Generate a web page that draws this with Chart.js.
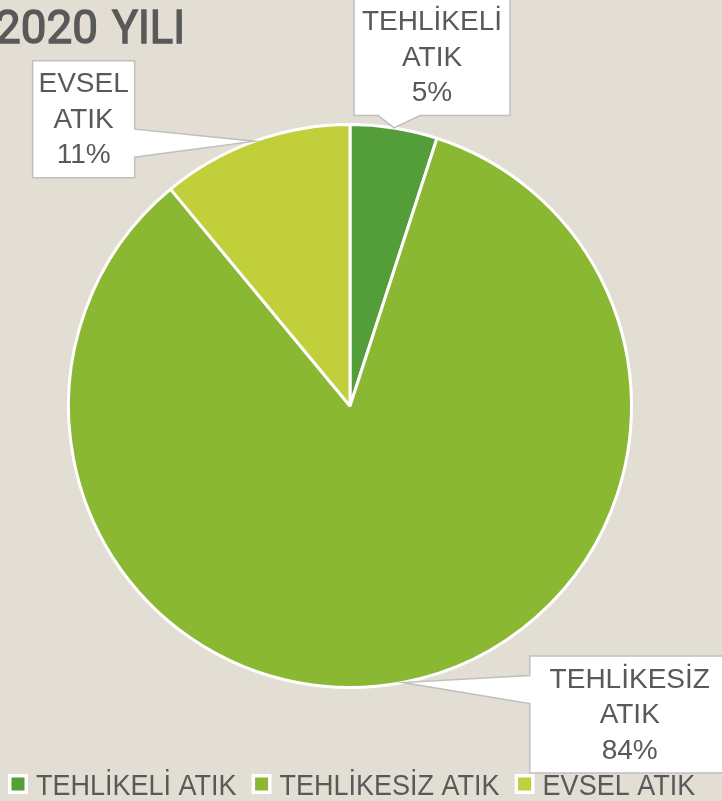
<!DOCTYPE html>
<html>
<head>
<meta charset="utf-8">
<script src="https://cdn.jsdelivr.net/npm/chart.js@4.4.1/dist/chart.umd.min.js"></script>
<style>
  html, body { margin: 0; padding: 0; background: #E3DED4; }
  #wrap { width: 722px; height: 801px; position: relative; }
</style>
</head>
<body>
<div id="wrap"><canvas id="myChart" width="722" height="801"></canvas></div>
<script>
const chartTitle = '2020 YILI';
const categories = ['TEHLİKELİ ATIK', 'TEHLİKESİZ ATIK', 'EVSEL ATIK'];
const shares = [5, 84, 11];
const sliceColors = ['#549E39', '#8AB833', '#C0CF3A'];

// callout box placement relative to the slice's outer mid point (dx, dy of box center, w, h)
const calloutBoxes = [
    { dx: 38, dy: -71, w: 156, h: 117 },
    { dx: 227, dy: 32, w: 200, h: 117 },
    { dx: -171, dy: -22, w: 102, h: 117 }
];

const textColor = '#595959';

// title sits half off the left edge, like a cropped slide
const titlePlugin = {
    id: 'cornerTitle',
    afterDraw(chart) {
        const ctx = chart.ctx;
        ctx.save();
        ctx.fillStyle = textColor;
        ctx.strokeStyle = textColor;
        ctx.lineWidth = 1.4;
        ctx.font = '47px Roboto, "Liberation Sans", Arial, sans-serif';
        ctx.textAlign = 'right';
        ctx.textBaseline = 'alphabetic';
        const parts = chartTitle.split(' ');
        // year: right edge ~98px, word: right edge ~184px
        const spots = [{ right: 98, width: 103 }, { right: 185, width: 73 }];
        parts.forEach((part, i) => {
            const w = ctx.measureText(part).width;
            ctx.save();
            ctx.translate(spots[i].right, 43);
            ctx.scale(spots[i].width / w, 1);
            ctx.fillText(part, 0, 0);
            ctx.strokeText(part, 0, 0);
            ctx.restore();
        });
        ctx.restore();
    }
};

// legend drawn by hand to get the narrow lettering of the original
const legendPlugin = {
    id: 'narrowLegend',
    afterDraw(chart) {
        const ctx = chart.ctx;
        ctx.save();
        ctx.font = '30px "Liberation Sans", Arial, sans-serif';
        ctx.textBaseline = 'alphabetic';
        ctx.textAlign = 'left';
        const sx = 0.9;
        let x = 8;
        const top = 774, size = 20, inset = 3.5;
        categories.forEach((name, i) => {
            ctx.fillStyle = '#FFFFFF';
            ctx.fillRect(x, top, size, size);
            ctx.fillStyle = sliceColors[i];
            ctx.fillRect(x + inset, top + inset, size - 2 * inset, size - 2 * inset);
            x += size + 8;
            ctx.save();
            ctx.translate(x, 795);
            ctx.scale(sx, 1);
            ctx.fillStyle = textColor;
            ctx.fillText(name, 0, 0);
            ctx.restore();
            x += ctx.measureText(name).width * sx + 15;
        });
        ctx.restore();
    }
};

const calloutPlugin = {
    id: 'callouts',
    afterDatasetsDraw(chart) {
        const ctx = chart.ctx;
        const meta = chart.getDatasetMeta(0);
        const total = shares.reduce((a, b) => a + b, 0);
        meta.data.forEach((arc, i) => {
            const p = arc.getProps(['x', 'y', 'startAngle', 'endAngle', 'outerRadius'], true);
            const mid = (p.startAngle + p.endAngle) / 2;
            const ax = p.x + Math.cos(mid) * p.outerRadius;
            const ay = p.y + Math.sin(mid) * p.outerRadius;
            const b = calloutBoxes[i];
            const cx = ax + b.dx, cy = ay + b.dy;
            const l = cx - b.w / 2, r = cx + b.w / 2, t = cy - b.h / 2, bt = cy + b.h / 2;

            // box outline with pointer toward the anchor
            ctx.save();
            ctx.beginPath();
            if (ay > bt) {
                // pointer from bottom edge
                ctx.moveTo(l, t); ctx.lineTo(r, t); ctx.lineTo(r, bt);
                ctx.lineTo(ax + 26, bt); ctx.lineTo(ax, ay); ctx.lineTo(ax - 16, bt);
                ctx.lineTo(l, bt); ctx.closePath();
            } else if (ax > r) {
                // pointer from right edge
                ctx.moveTo(l, t); ctx.lineTo(r, t);
                ctx.lineTo(r, cy + 10); ctx.lineTo(ax, ay); ctx.lineTo(r, cy + 38);
                ctx.lineTo(r, bt); ctx.lineTo(l, bt); ctx.closePath();
            } else {
                // pointer from left edge
                ctx.moveTo(l, t); ctx.lineTo(r, t); ctx.lineTo(r, bt); ctx.lineTo(l, bt);
                ctx.lineTo(l, cy - 11); ctx.lineTo(ax, ay); ctx.lineTo(l, cy - 39);
                ctx.closePath();
            }
            ctx.fillStyle = '#FFFFFF';
            ctx.fill();
            ctx.strokeStyle = '#BFBFBF';
            ctx.lineWidth = 1.5;
            ctx.stroke();

            // text lines
            const words = categories[i].split(' ');
            const pct = Math.round(shares[i] / total * 100) + '%';
            const lines = [...words, pct];
            ctx.fillStyle = textColor;
            ctx.font = '28px "Liberation Sans", Arial, sans-serif';
            ctx.textAlign = 'center';
            ctx.textBaseline = 'middle';
            const lh = 35.5;
            lines.forEach((ln, k) => {
                ctx.fillText(ln, cx, cy + 1 + (k - (lines.length - 1) / 2) * lh);
            });
            ctx.restore();
        });
    }
};

const ctx = document.getElementById('myChart').getContext('2d');
const myChart = new Chart(ctx, {
    type: 'pie',
    data: {
        labels: categories,
        datasets: [{
            data: shares,
            backgroundColor: sliceColors,
            borderColor: '#FFFFFF',
            borderWidth: 3
        }]
    },
    options: {
        responsive: false,
        animation: false,
        layout: {
            padding: { top: 123, bottom: 112, left: 0, right: 22 }
        },
        plugins: {
            title: { display: false },
            tooltip: { enabled: false },
            legend: { display: false }
        }
    },
    plugins: [titlePlugin, calloutPlugin, legendPlugin]
});
</script>
</body>
</html>
